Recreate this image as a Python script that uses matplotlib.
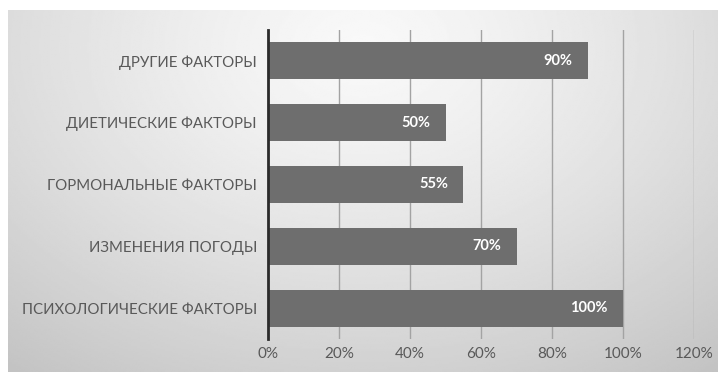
import numpy as np
import matplotlib
matplotlib.use("Agg")
import matplotlib.pyplot as plt
from matplotlib.ticker import FuncFormatter

plt.rcParams['font.family'] = ['Lato', 'Open Sans', 'DejaVu Sans']

categories = ["ПСИХОЛОГИЧЕСКИЕ ФАКТОРЫ", "ИЗМЕНЕНИЯ ПОГОДЫ", "ГОРМОНАЛЬНЫЕ ФАКТОРЫ",
              "ДИЕТИЧЕСКИЕ ФАКТОРЫ", "ДРУГИЕ ФАКТОРЫ"]
values = [100, 70, 55, 50, 90]
xticks = [0, 20, 40, 60, 80, 100, 120]

W, H = 718, 372
fig = plt.figure(figsize=(W / 100, H / 100), dpi=100)
fig.patch.set_facecolor("white")

# Panel with a soft radial grey gradient
bg = fig.add_axes([8 / W, 0, (W - 8) / W, (H - 10) / H])
bg.set_axis_off()
ny, nx = 200, 400
yy, xx = np.mgrid[0:1:ny * 1j, 0:1:nx * 1j]
dx = (xx - 0.5) / 0.75
dy = (yy - 0.1) / 1.05
r = np.sqrt(dx ** 2 + dy ** 2)
shade = np.clip(0.975 - 0.19 * r ** 1.3, 0.76, 0.98)
bg.imshow(shade, cmap="gray", vmin=0, vmax=1, aspect="auto",
          extent=[0, 1, 1, 0], interpolation="bilinear")
bg.set_xlim(0, 1)
bg.set_ylim(1, 0)

ax = fig.add_axes([268 / W, 1 - 339 / H, (694 - 268) / W, (339 - 30) / H])
ax.patch.set_alpha(0)
y = np.arange(len(categories))
bars = ax.barh(y, values, height=0.6, color="#6e6e6e", zorder=3)
ax.set_ylim(-0.5, len(categories) - 0.5)
ax.set_xlim(0, 120)
ax.set_xticks(xticks)
ax.xaxis.set_major_formatter(FuncFormatter(lambda v, p: f"{int(v)}%"))
ax.set_yticks(y)
ax.set_yticklabels(categories)
ax.grid(axis="x", color="#a3a3a3", linewidth=1, zorder=1)
for s in ["top", "right", "bottom"]:
    ax.spines[s].set_visible(False)
ax.spines["left"].set_color("#2b2b2b")
ax.spines["left"].set_linewidth(2)
ax.spines["left"].set_zorder(4)
ax.tick_params(axis="both", length=0, colors="#595959")
ax.tick_params(axis="y", pad=8, labelsize=10.8)
ax.tick_params(axis="x", pad=6, labelsize=11)

for b, v in zip(bars, values):
    ax.annotate(f"{v}%", xy=(b.get_width(), b.get_y() + b.get_height() / 2),
                xytext=(-11, 0), textcoords="offset points", ha="right", va="center",
                color="white", fontsize=10.5, fontweight="bold", zorder=5)

fig.savefig("out.png", dpi=100)
